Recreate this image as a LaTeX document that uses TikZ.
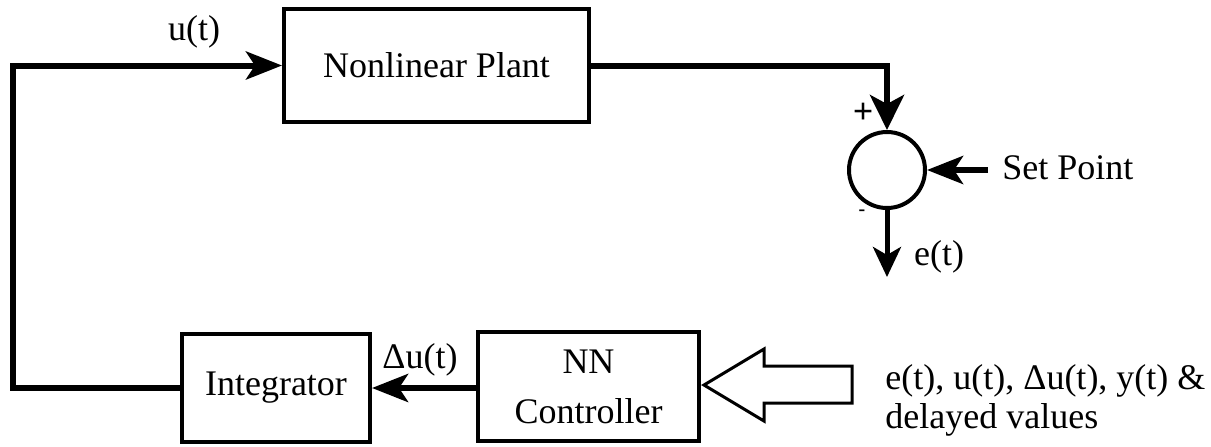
\documentclass[tikz,border=0pt]{standalone}
\usepackage{fontspec}
\setmainfont{Liberation Serif}
\usetikzlibrary{arrows.meta,calc}
\begin{document}
\begin{tikzpicture}[x=0.5pt,y=-0.5pt,
  txt/.style={font=\fontsize{18}{21}\selectfont, inner sep=0pt},
  blk/.style={draw, line width=2pt, rectangle, inner sep=0pt, font=\fontsize{18}{21}\selectfont, align=center},
  wire/.style={line width=3pt, line join=miter},
  conn/.style={wire, -{Stealth[length=18pt,width=14pt,inset=4.5pt]}},
  hollow/.style={draw, line width=1.5pt, line join=miter, fill=white}
]
\useasboundingbox (0,0) rectangle (1211,446);
% blocks
\node[blk, minimum width=152.5pt, minimum height=56.5pt] (plant) at (436.5,65.5) {Nonlinear Plant};
\node[blk, minimum width=94pt, minimum height=54pt] (integ) at (276,388) {Integrator};
\node[blk, minimum width=110.5pt, minimum height=54.5pt, font=\fontsize{18}{25}\selectfont] (nn) at (588.5,386.5) {NN\\Controller};
\node[draw, circle, line width=2pt, minimum size=38pt, inner sep=0pt] (sum) at (887,170) {};
% helper coordinates
\coordinate (lc) at (13,200);
\coordinate (sp) at (988,170);
\coordinate (eo) at (887,277);
% connectors
\draw[conn] (integ.west) -- (integ.west -| lc) |- (plant.west);
\draw[conn, -{Stealth[length=17.5pt,width=17pt,inset=4.5pt]}] (plant.east) -| (sum.north);
\draw[conn] (sp) -- (sum.east);
\draw[conn, line width=2.5pt, -{Stealth[length=15pt,width=14pt,inset=4pt]}] (sum.south) -- (eo);
\draw[conn] (integ.east -| nn.west) -- (integ.east);
% hollow input arrow
\draw[hollow] ($(nn.east)+(3,-1.5)$) -- ++(60,-36) -- ++(0,17) -- ++(88,0) -- ++(0,37) -- ++(-88,0) -- ++(0,18) -- cycle;
% labels
\node[txt] (ul) at (194,32) {u(t)};
\node[txt] (dul) at (420,360) {Δu(t)};
\node[txt, anchor=west] (spl) at (1002,168) {Set Point};
\node[txt] (el) at (939,257) {e(t)};
\node[txt, font=\fontsize{18}{21}\selectfont\bfseries] (plus) at (863,113) {+};
\node[font=\fontsize{10}{11}\selectfont\bfseries, inner sep=0pt] (minus) at (862,213) {-};
\node[txt, anchor=west, align=left, font=\fontsize{18}{19.5}\selectfont] (inl) at (885,400) {e(t), u(t), Δu(t), y(t) \&\\delayed values};
\end{tikzpicture}
\end{document}
